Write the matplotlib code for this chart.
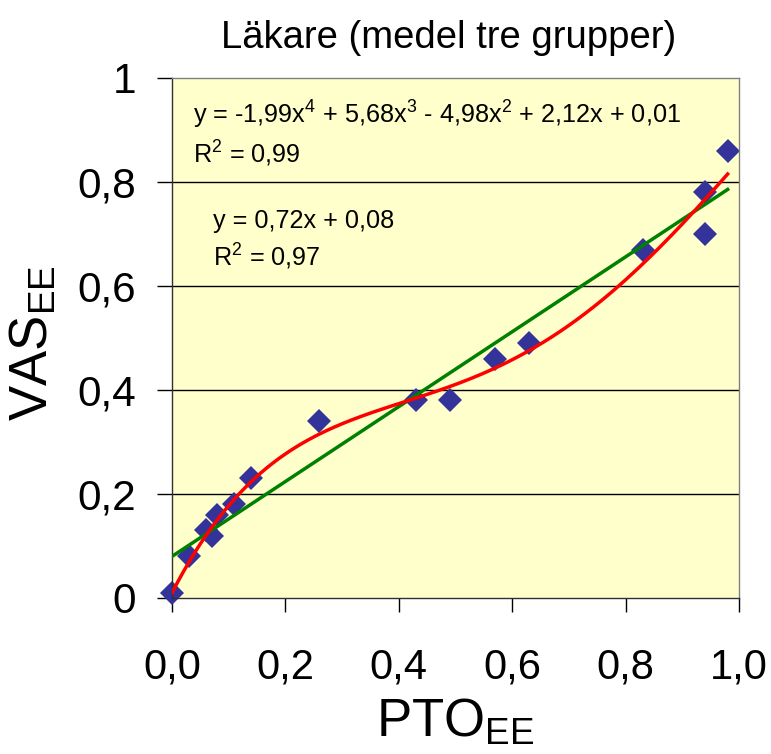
import matplotlib
matplotlib.use('Agg')
import matplotlib.pyplot as plt
import numpy as np

plt.rcParams['font.family'] = ['Liberation Sans', 'DejaVu Sans']
plt.rcParams['mathtext.fontset'] = 'custom'
plt.rcParams['mathtext.rm'] = 'Liberation Sans'
plt.rcParams['mathtext.it'] = 'Liberation Sans'
plt.rcParams['mathtext.bf'] = 'Liberation Sans'

# data
pto = [0.00, 0.03, 0.06, 0.07, 0.08, 0.11, 0.14, 0.26, 0.43, 0.49,
       0.57, 0.63, 0.83, 0.94, 0.94, 0.98]
vas = [0.01, 0.08, 0.13, 0.12, 0.16, 0.18, 0.23, 0.34, 0.38, 0.38,
       0.46, 0.49, 0.67, 0.78, 0.70, 0.86]

# trendline coefficients as printed on the chart (highest power first)
poly_coef = [-1.99, 5.68, -4.98, 2.12, 0.01]
lin_coef = [0.72, 0.08]

x_ticks = [0.0, 0.2, 0.4, 0.6, 0.8, 1.0]
x_tick_labels = ['0,0', '0,2', '0,4', '0,6', '0,8', '1,0']
y_ticks = [0.0, 0.2, 0.4, 0.6, 0.8, 1.0]
y_tick_labels = ['0', '0,2', '0,4', '0,6', '0,8', '1']

title = 'Läkare (medel tre grupper)'
poly_label = 'y = -1,99x$^{4}$ + 5,68x$^{3}$ - 4,98x$^{2}$ + 2,12x + 0,01'
poly_r2 = 'R$^{2}$ = 0,99'
lin_label = 'y = 0,72x + 0,08'
lin_r2 = 'R$^{2}$ = 0,97'

fig = plt.figure(figsize=(7.71, 7.54), dpi=100)
ax = fig.add_axes([0.2231, 0.2069, 0.7354, 0.6897])
ax.set_facecolor('#FFFFCC')

ax.set_xlim(0, 1)
ax.set_ylim(0, 1)

for yv in y_ticks[1:-1]:
    ax.axhline(yv, color='black', lw=1.0, zorder=1)

xs = np.linspace(min(pto), max(pto), 200)
ax.plot(xs, np.polyval(lin_coef, xs), color='#008000', lw=2.5, zorder=3)
ax.plot(xs, np.polyval(poly_coef, xs), color='#FF0000', lw=2.5, zorder=4)
ax.plot(pto, vas, linestyle='None', marker='D', ms=12.5,
        color='#333399', markeredgewidth=0, zorder=2, clip_on=False)

ax.set_xticks(x_ticks)
ax.set_xticklabels(x_tick_labels, fontsize=30)
ax.set_yticks(y_ticks)
ax.set_yticklabels(y_tick_labels, fontsize=30.5)
ax.tick_params(axis='x', direction='out', length=10, width=1, pad=26)
ax.tick_params(axis='y', direction='out', length=11, width=1, pad=15)

for s in ['top', 'right']:
    ax.spines[s].set_color('#808080')
    ax.spines[s].set_linewidth(1.0)
for s in ['left', 'bottom']:
    ax.spines[s].set_color('#303030')
    ax.spines[s].set_linewidth(1.0)

ax.set_title(title, fontsize=27.5, pad=21.5, x=0.487)
ax.set_xlabel('PTO$_{\\mathrm{EE}}$', fontsize=38)
ax.xaxis.set_label_coords(0.5, -0.19)
ax.xaxis.label.set_va('top')
ax.set_ylabel('VAS$_{\\mathrm{EE}}$', fontsize=38)
ax.yaxis.set_label_coords(-0.2, 0.49)

ax.text(0.037, 0.913, poly_label, fontsize=18.2, va='baseline')
ax.text(0.037, 0.837, poly_r2, fontsize=18.2, va='baseline')
ax.text(0.072, 0.712, lin_label, fontsize=18.2, va='baseline')
ax.text(0.072, 0.638, lin_r2, fontsize=18.2, va='baseline')

fig.savefig('out.png', dpi=100)
